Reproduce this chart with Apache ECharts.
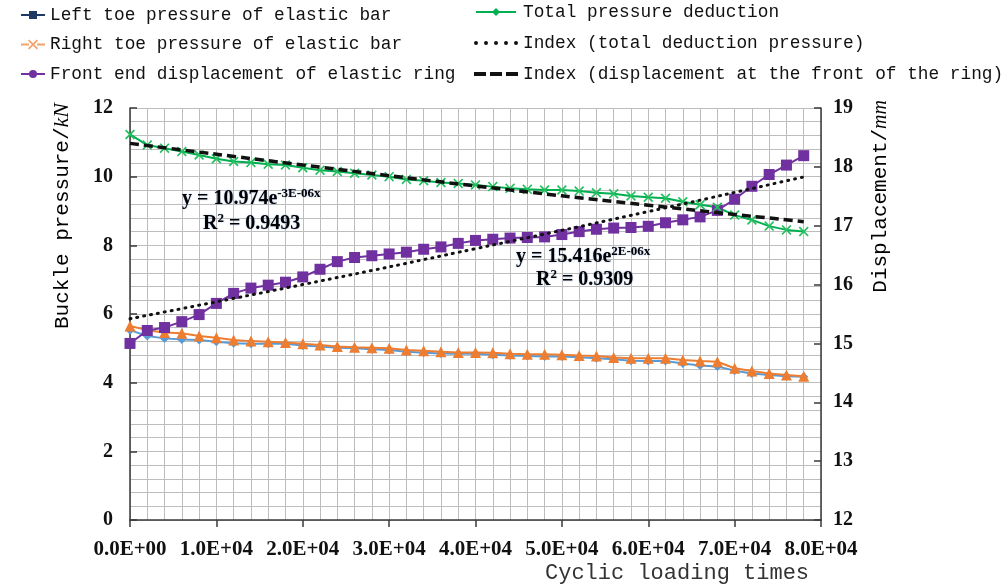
<!DOCTYPE html>
<html>
<head>
<meta charset="utf-8">
<script src="https://cdn.jsdelivr.net/npm/echarts@6/dist/echarts.min.js"></script>
<style>html,body{margin:0;padding:0;background:#fff;}#c{width:1002px;height:587px;}</style>
</head>
<body>
<div id="c"></div>
<script>
var cycles = [0,2000,4000,6000,8000,10000,12000,14000,16000,18000,20000,22000,24000,26000,28000,30000,32000,34000,36000,38000,40000,42000,44000,46000,48000,50000,52000,54000,56000,58000,60000,62000,64000,66000,68000,70000,72000,74000,76000,78000];
var leftToe = [5.53,5.36,5.29,5.26,5.24,5.19,5.15,5.13,5.13,5.13,5.08,5.05,5.02,5.00,4.97,4.95,4.90,4.87,4.85,4.84,4.84,4.81,4.79,4.78,4.76,4.76,4.74,4.71,4.68,4.64,4.63,4.63,4.56,4.50,4.47,4.35,4.27,4.22,4.19,4.17];
var rightToe = [5.65,5.53,5.46,5.44,5.36,5.31,5.24,5.21,5.19,5.17,5.13,5.10,5.05,5.03,5.02,5.00,4.95,4.93,4.90,4.88,4.88,4.87,4.84,4.83,4.83,4.81,4.79,4.78,4.73,4.71,4.71,4.71,4.66,4.63,4.61,4.42,4.34,4.27,4.22,4.19];
var displacement = [15.00,15.22,15.27,15.37,15.49,15.68,15.85,15.94,15.99,16.04,16.13,16.26,16.39,16.46,16.49,16.52,16.55,16.60,16.64,16.70,16.75,16.77,16.79,16.80,16.81,16.85,16.90,16.94,16.96,16.97,16.99,17.05,17.10,17.15,17.26,17.45,17.67,17.87,18.03,18.19];
var totalPressure = [11.23,10.92,10.83,10.73,10.63,10.52,10.44,10.41,10.36,10.34,10.26,10.19,10.15,10.10,10.05,10.00,9.92,9.88,9.83,9.80,9.76,9.71,9.66,9.63,9.61,9.61,9.58,9.53,9.50,9.44,9.40,9.37,9.27,9.18,9.11,8.88,8.74,8.56,8.45,8.40];
var trendX = [0,20000,40000,60000,78000];
var trendTotal = [10.97,10.34,9.73,9.17,8.69];
var trendDisp = [15.42,16.00,16.61,17.24,17.83];
var leftTicks = {min:0,max:12,step:2};
var rightTicks = {min:12,max:19,step:1};
var names = ['Left toe pressure of elastic bar','Right toe pressure of elastic bar','Front end displacement of elastic ring','Total pressure deduction','Index (total deduction pressure)','Index (displacement at the front of the ring)'];

function pairs(xs, ys){ return xs.map(function(x,i){return [x, ys[i]];}); }
function fmtX(v){
  if (v === 0) return '0.0E+00';
  var e = Math.floor(Math.log10(v));
  var m = v / Math.pow(10, e);
  return m.toFixed(1) + 'E+' + (e < 10 ? '0' : '') + e;
}
var XPATH = 'path://M0,1.2L1.2,0L5,3.8L8.8,0L10,1.2L6.2,5L10,8.8L8.8,10L5,6.2L1.2,10L0,8.8L3.8,5Z';
// legend icons (line + marker drawn as one filled path)
var IC_SQ = 'path://M0,2.9H8V0H16V2.9H24V5.1H16V8H8V5.1H0Z';
var IC_X = 'path://M0,3.9H8V6.1H0ZM16,3.9H24V6.1H16ZM7,1.2L8.2,0L12,3.8L15.8,0L17,1.2L13.2,5L17,8.8L15.8,10L12,6.2L8.2,10L7,8.8L10.8,5Z';
var IC_CI = 'path://M0,2.9H8.5V5.1H0ZM15.5,2.9H24V5.1H15.5ZM8,4A4,4 0 1,1 16,4A4,4 0 1,1 8,4Z';
var IC_DI = 'path://M0,3H17V5H0ZM23,3H40V5H23ZM16,4L20,0L24,4L20,8Z';
var IC_DOT = 'path://M0,2A2,2 0 1,1 4,2A2,2 0 1,1 0,2ZM10,2A2,2 0 1,1 14,2A2,2 0 1,1 10,2ZM20,2A2,2 0 1,1 24,2A2,2 0 1,1 20,2ZM30,2A2,2 0 1,1 34,2A2,2 0 1,1 30,2ZM40,2A2,2 0 1,1 44,2A2,2 0 1,1 40,2Z';
var IC_DASH = 'path://M0,0H12V4H0ZM16,0H28V4H16ZM32,0H44V4H32Z';
var GRID = '#bdbdbd';
var AX = '#3a3a3a';
var serifBold = {fontFamily:'Liberation Serif', fontWeight:'bold', color:'#111'};
var mono = 'Liberation Mono';

var chart = echarts.init(document.getElementById('c'));
var annStyle = {
  a:{fontFamily:'Liberation Serif',fontWeight:'bold',fontSize:20,color:'#2a2218',lineHeight:23},
  s:{fontFamily:'Liberation Serif',fontWeight:'bold',fontSize:13,color:'#2a2218',verticalAlign:'top',lineHeight:23}
};
function annText(x, y, parts){
  return {type:'text', left:x, top:y, z:100, style:{
    rich:annStyle, text:parts,
    textShadowColor:'rgba(70,120,210,0.45)', textShadowBlur:2
  }};
}
var legendText = {fontFamily:mono,fontSize:17.8,color:'#111',lineHeight:20};
chart.setOption({
  animation:false,
  backgroundColor:'#fff',
  grid:{left:130,right:181,top:108,bottom:67},
  legend:[{
    orient:'vertical', left:21, top:5, padding:0, itemWidth:24, itemHeight:10, itemGap:9.5,
    textStyle:legendText,
    data:[
      {name:names[0], icon:IC_SQ, itemStyle:{color:'#1F3864'}},
      {name:names[1], icon:IC_X, itemStyle:{color:'#F5A26A'}},
      {name:names[2], icon:IC_CI, itemStyle:{color:'#7030A0'}}
    ]
  },{
    orient:'vertical', left:474, top:2, padding:0, itemWidth:44, itemHeight:8, itemGap:11,
    textStyle:legendText,
    data:[
      {name:names[3], icon:IC_DI, itemStyle:{color:'#00B050'}},
      {name:names[4], icon:IC_DOT},
      {name:names[5], icon:IC_DASH}
    ]
  }],
  xAxis:{
    type:'value', min:0, max:80000, interval:10000,
    axisLine:{show:true,lineStyle:{color:AX,width:1.5}},
    axisTick:{show:true,inside:false,length:7,lineStyle:{color:AX,width:1.5}},
    axisLabel:Object.assign({fontSize:21,margin:19,formatter:fmtX}, serifBold),
    splitLine:{show:true,lineStyle:{color:GRID,width:1}},
    minorTick:{show:false,splitNumber:5},
    minorSplitLine:{show:true,lineStyle:{color:GRID,width:1}}
  },
  yAxis:[{
    type:'value', min:leftTicks.min, max:leftTicks.max, interval:leftTicks.step,
    axisLine:{show:true,lineStyle:{color:AX,width:1.5}},
    axisTick:{show:true,inside:true,length:7,lineStyle:{color:AX,width:1.5}},
    axisLabel:Object.assign({fontSize:20,margin:17}, serifBold),
    splitLine:{show:true,lineStyle:{color:GRID,width:1}},
    minorTick:{show:false,splitNumber:5},
    minorSplitLine:{show:true,lineStyle:{color:GRID,width:1}}
  },{
    type:'value', min:rightTicks.min, max:rightTicks.max, interval:rightTicks.step, position:'right',
    axisLine:{show:true,lineStyle:{color:AX,width:1.5}},
    axisTick:{show:true,inside:true,length:7,lineStyle:{color:AX,width:1.5}},
    axisLabel:Object.assign({fontSize:20,margin:12}, serifBold),
    splitLine:{show:false}
  }],
  graphic:[
    {type:'text', left:51, top:103, rotation:Math.PI/2, z:100, style:{
      text:'{n|Buckle pressure/}{i|kN}',
      rich:{n:{fontFamily:mono,fontSize:21,color:'#333'}, i:{fontFamily:'Liberation Serif',fontStyle:'italic',fontSize:22,color:'#333'}}
    }},
    {type:'text', left:870, top:100, rotation:Math.PI/2, z:100, style:{
      text:'{n|Displacement/}{i|mm}',
      rich:{n:{fontFamily:mono,fontSize:21,color:'#333'}, i:{fontFamily:'Liberation Serif',fontStyle:'italic',fontSize:20,color:'#333'}}
    }},
    {type:'text', left:545, top:562, z:100, style:{text:'Cyclic loading times', fontFamily:mono, fontSize:22, fill:'#333'}},
    annText(182, 187, '{a|y = 10.974e}{s|-3E-06x}'),
    annText(203, 212, '{a|R}{s|2}{a| = 0.9493}'),
    annText(516, 245, '{a|y = 15.416e}{s|2E-06x}'),
    annText(536, 268, '{a|R}{s|2}{a| = 0.9309}')
  ],
  series:[
    {name:names[0], type:'line', yAxisIndex:0, data:pairs(cycles,leftToe),
      symbol:'diamond', symbolSize:9, itemStyle:{color:'#5B9BD5'}, lineStyle:{color:'#5B9BD5',width:2}, z:3},
    {name:names[1], type:'line', yAxisIndex:0, data:pairs(cycles,rightToe),
      symbol:'triangle', symbolSize:11, itemStyle:{color:'#ED7D31'}, lineStyle:{color:'#ED7D31',width:2}, z:4},
    {name:names[2], type:'line', yAxisIndex:1, data:pairs(cycles,displacement),
      symbol:'rect', symbolSize:11, itemStyle:{color:'#7030A0'}, lineStyle:{color:'#7030A0',width:2}, z:5},
    {name:names[3], type:'line', yAxisIndex:0, data:pairs(cycles,totalPressure),
      symbol:XPATH, symbolSize:10, itemStyle:{color:'#22C05E'}, lineStyle:{color:'#00B050',width:2}, z:5},
    {name:names[4], type:'line', yAxisIndex:1, data:pairs(trendX,trendDisp), smooth:true,
      symbol:'none', itemStyle:{color:'#111'}, lineStyle:{color:'#111',width:3,type:[1,6],cap:'round'}, z:6},
    {name:names[5], type:'line', yAxisIndex:0, data:pairs(trendX,trendTotal), smooth:true,
      symbol:'none', itemStyle:{color:'#111'}, lineStyle:{color:'#111',width:3.5,type:[9,5]}, z:6}
  ]
});
</script>
</body>
</html>
